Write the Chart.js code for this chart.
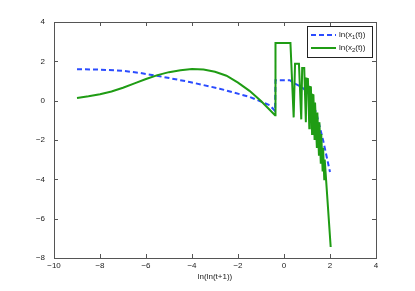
<!DOCTYPE html>
<html>
<head>
<meta charset="utf-8">
<script src="https://cdn.jsdelivr.net/npm/chart.js@4"></script>
<style>
  html, body { margin: 0; padding: 0; background: #fff; }
  #wrap { width: 415px; height: 291px; }
</style>
</head>
<body>
<div id="wrap"><canvas id="chart" width="415" height="291"></canvas></div>
<script>
// ln(x1(t)) - dashed blue
const x1T = [-9, -8, -7, -6.27, -5.4, -4.1, -2.8, -1.49, -0.61, -0.39, -0.37, 0.25, 0.5, 0.76, 1.1, 1.41, 1.7, 2.0];
const x1V = [1.6, 1.58, 1.52, 1.41, 1.24, 0.95, 0.61, 0.19, -0.24, -0.52, 1.04, 1.04, 0.85, 0.7, 0.35, -0.66, -2.01, -3.63];

// ln(x2(t)) - solid green
const x2T = [-9, -8.5, -8, -7.5, -7, -6.5, -6, -5.5, -5, -4.5, -4, -3.5, -3, -2.5, -2, -1.5, -1, -0.39,
  -0.37, 0.28, 0.42, 0.48, 0.65, 0.75, 0.79, 0.88, 0.95, 0.98, 1.04, 1.1, 1.12, 1.17, 1.22,
  1.24, 1.28, 1.33, 1.35, 1.38, 1.43, 1.45, 1.52, 1.54, 1.6, 1.62, 1.68, 1.7, 1.75, 1.77, 2.03];
const x2V = [0.14, 0.22, 0.33, 0.47, 0.66, 0.88, 1.1, 1.3, 1.45, 1.55, 1.61, 1.58, 1.47, 1.27, 0.92, 0.5, -0.02, -0.74,
  2.93, 2.93, -0.85, 1.88, 1.88, -0.95, 1.66, 1.66, -1.1, 1.12, 1.1, -1.4, 0.7, 0.68, -1.7,
  0.3, 0.28, -2.0, -0.1, -0.1, -2.4, -0.6, -2.8, -1.1, -3.2, -1.7, -3.6, -2.4, -4.0, -3.0, -7.44];

const xTicks = [-10, -8, -6, -4, -2, 0, 2, 4];
const yTicks = [-8, -6, -4, -2, 0, 2, 4];

const seriesNames = ['x', '1', '2'];

const pts = (xs, ys) => xs.map((x, i) => ({ x: x, y: ys[i] }));
const fmt = (v) => String(v).replace('-', '\u2212');
const FONT = 'Liberation Sans, Arial, sans-serif';

// box + inward ticks on all four sides, like matlab
const framePlugin = {
  id: 'frame',
  afterDraw(chart) {
    const { ctx, chartArea: a, scales } = chart;
    ctx.save();
    ctx.strokeStyle = '#555';
    ctx.lineWidth = 1;
    ctx.strokeRect(a.left + 0.5, a.top + 0.5, a.right - a.left, a.bottom - a.top);
    ctx.beginPath();
    xTicks.forEach((v) => {
      const px = Math.round(scales.x.getPixelForValue(v)) + 0.5;
      ctx.moveTo(px, a.bottom); ctx.lineTo(px, a.bottom - 4);
      ctx.moveTo(px, a.top); ctx.lineTo(px, a.top + 4);
    });
    yTicks.forEach((v) => {
      const py = Math.round(scales.y.getPixelForValue(v)) + 0.5;
      ctx.moveTo(a.left, py); ctx.lineTo(a.left + 4, py);
      ctx.moveTo(a.right, py); ctx.lineTo(a.right - 4, py);
    });
    ctx.stroke();

    // legend
    const lx = 307, ly = 26, lw = 65, lh = 31;
    ctx.fillStyle = '#fff';
    ctx.fillRect(lx, ly, lw, lh);
    ctx.strokeStyle = '#222';
    ctx.strokeRect(lx + 0.5, ly + 0.5, lw, lh);
    const items = [
      { color: '#2b4cff', dash: [5, 3], sub: seriesNames[1], y: ly + 9 },
      { color: '#1f9c14', dash: [], sub: seriesNames[2], y: ly + 22 },
    ];
    items.forEach((it) => {
      ctx.beginPath();
      ctx.setLineDash(it.dash);
      ctx.strokeStyle = it.color;
      ctx.lineWidth = 2;
      ctx.moveTo(lx + 4, it.y); ctx.lineTo(lx + 29, it.y);
      ctx.stroke();
      ctx.setLineDash([]);
      ctx.fillStyle = '#222';
      ctx.textBaseline = 'middle';
      ctx.font = '8px ' + FONT;
      let tx = lx + 32;
      const a1 = 'ln(' + seriesNames[0];
      ctx.fillText(a1, tx, it.y); tx += ctx.measureText(a1).width;
      ctx.font = '6px ' + FONT;
      ctx.fillText(it.sub, tx, it.y + 2.5); tx += ctx.measureText(it.sub).width;
      ctx.font = '8px ' + FONT;
      ctx.fillText('(t))', tx, it.y);
    });
    ctx.restore();
  },
};

new Chart(document.getElementById('chart'), {
  type: 'scatter',
  data: {
    datasets: [
      {
        label: 'ln(x1(t))',
        data: pts(x1T, x1V),
        showLine: true,
        borderColor: '#2b4cff',
        borderWidth: 2,
        borderDash: [5, 3],
        pointRadius: 0,
        order: 1,
      },
      {
        label: 'ln(x2(t))',
        data: pts(x2T, x2V),
        showLine: true,
        borderColor: '#1f9c14',
        borderWidth: 2,
        pointRadius: 0,
        order: 0,
      },
    ],
  },
  options: {
    responsive: false,
    animation: false,
    layout: { padding: { top: 22, right: 39, left: 0, bottom: 9 } },
    plugins: {
      legend: { display: false },
      tooltip: { enabled: false },
    },
    scales: {
      x: {
        type: 'linear',
        min: -10,
        max: 4,
        afterBuildTicks: (s) => { s.ticks = xTicks.map((v) => ({ value: v })); },
        afterFit: (s) => { s.height = 24; },
        grid: { display: false, drawTicks: false },
        border: { display: false },
        ticks: {
          padding: 3,
          color: '#222',
          font: { size: 8, family: FONT },
          maxRotation: 0,
          callback: (v) => fmt(v),
        },
        title: {
          display: true,
          text: 'ln(ln(t+1))',
          color: '#222',
          font: { size: 8, family: FONT },
          padding: { top: 0, bottom: 0 },
        },
      },
      y: {
        type: 'linear',
        min: -8,
        max: 4,
        afterBuildTicks: (s) => { s.ticks = yTicks.map((v) => ({ value: v })); },
        afterFit: (s) => { s.width = 54; },
        grid: { display: false, drawTicks: false },
        border: { display: false },
        ticks: {
          padding: 9,
          color: '#222',
          font: { size: 8, family: FONT },
          callback: (v) => fmt(v),
        },
      },
    },
  },
  plugins: [framePlugin],
});
</script>
</body>
</html>
